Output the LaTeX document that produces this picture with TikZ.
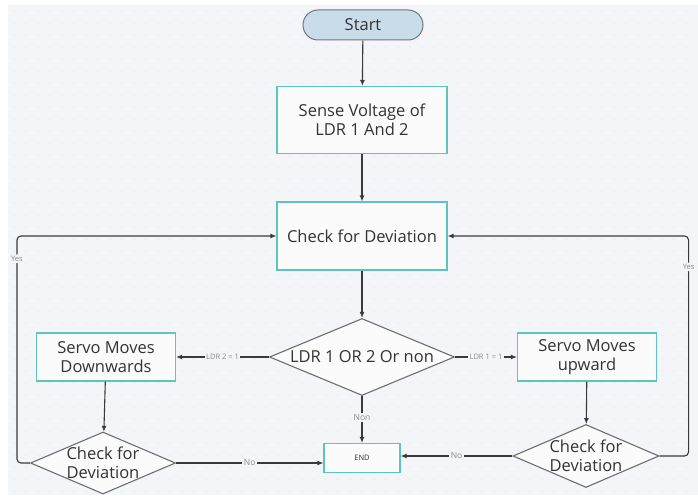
\documentclass[tikz,border=0pt]{standalone}
\usepackage{fontspec}
\setmainfont{Open Sans}
\usetikzlibrary{arrows.meta, shapes.geometric}
\definecolor{canvas}{HTML}{F4F5F8}
\definecolor{griddot}{HTML}{DADCE2}
\definecolor{tealedge}{HTML}{5CC6BA}
\definecolor{boxfill}{HTML}{FBFBFC}
\definecolor{startfill}{HTML}{C9DCEA}
\definecolor{startedge}{HTML}{6F787E}
\definecolor{flowline}{HTML}{3A3A3A}
\definecolor{diaedge}{HTML}{6E6E6E}
\definecolor{lblgray}{HTML}{8A8A8A}
\definecolor{txtdark}{HTML}{333333}

\tikzset{
  maintext/.style={font=\fontsize{16.5}{19.5}\selectfont, text=txtdark, align=center},
  procbox/.style={draw=tealedge, fill=boxfill, line width=1.2pt, inner sep=0pt, maintext},
  decision/.style={diamond, draw=diaedge, fill=boxfill, line width=1.1pt, inner sep=0pt},
  startstop/.style={draw=startedge, fill=startfill, line width=1pt, rounded corners=15pt,
    minimum width=120pt, minimum height=30pt, inner sep=0pt, maintext},
  flow/.style={draw=flowline, line width=1.1pt, -{Latex[length=6pt, width=5pt]}},
  edgelabel/.style={fill=canvas, inner sep=1.5pt, text=lblgray, font=\fontsize{7.5}{9}\selectfont}
}

\begin{document}
\begin{tikzpicture}[x=1pt, y=-1pt]

% Canvas
\useasboundingbox (0,0) rectangle (698,495);
\fill[canvas] (8,5) rectangle (698,495);
\foreach \i in {0,...,56} {
  \foreach \j in {0,...,40} {
    \fill[griddot] (14+\i*12, 11+\j*12) circle (0.6pt);
  }
}

% Main column
\node[startstop] (start) at (363,25) {Start};
\node[procbox, minimum width=170pt, minimum height=67pt] (sense) at (362,120) {Sense Voltage of\\LDR 1 And 2};
\node[procbox, minimum width=170pt, minimum height=68pt] (check) at (362,236) {Check for Deviation};
\node[decision, minimum width=185pt, minimum height=77pt,
      label={[maintext]center:LDR 1 OR 2 Or non}] (ldr) at (362,357) {};
\node[procbox, minimum width=76pt, minimum height=29pt, font=\fontsize{7.5}{9}\selectfont] (finish) at (362,458) {END};

% Side branches
\node[procbox, minimum width=139pt, minimum height=48pt] (down) at (106,357) {Servo Moves\\Downwards};
\node[procbox, minimum width=139pt, minimum height=48pt] (up) at (587,357) {Servo Moves\\upward};
\node[decision, minimum width=145pt, minimum height=62pt,
      label={[maintext]center:Check for\\Deviation}] (chkdown) at (103,463) {};
\node[decision, minimum width=146pt, minimum height=63pt,
      label={[maintext]center:Check for\\Deviation}] (chkup) at (586,456) {};

% Connectors
\draw[flow] (start) -- (sense);
\draw[flow] (sense) -- (check);
\draw[flow] (check) -- (ldr);
\draw[flow] (ldr.west) -- node[edgelabel] {LDR 2 = 1} (down.east);
\draw[flow] (ldr.east) -- node[edgelabel] {LDR 1 = 1} (up.west);
\draw[flow] (ldr.south) -- node[edgelabel, pos=0.45, font=\fontsize{8.5}{10}\selectfont] {Non} (finish.north);
\draw[flow] (down) -- (chkdown);
\draw[flow] (up) -- (chkup);
\draw[flow] (chkdown.east) -- node[edgelabel, font=\fontsize{8.5}{10}\selectfont] {No} (chkdown.east -| finish.west);
\draw[flow] (chkup.west) -- node[edgelabel, font=\fontsize{8.5}{10}\selectfont] {No} (chkup.west -| finish.east);

% Feedback loops
\draw[flow, rounded corners=4pt] (chkdown.west) -- ++(-13,0) |- node[edgelabel, pos=0.45] {Yes} (check.west);
\draw[flow, rounded corners=4pt] (chkup.east) -- ++(29,0) |- node[edgelabel, pos=0.43] {Yes} (check.east);

\end{tikzpicture}
\end{document}
